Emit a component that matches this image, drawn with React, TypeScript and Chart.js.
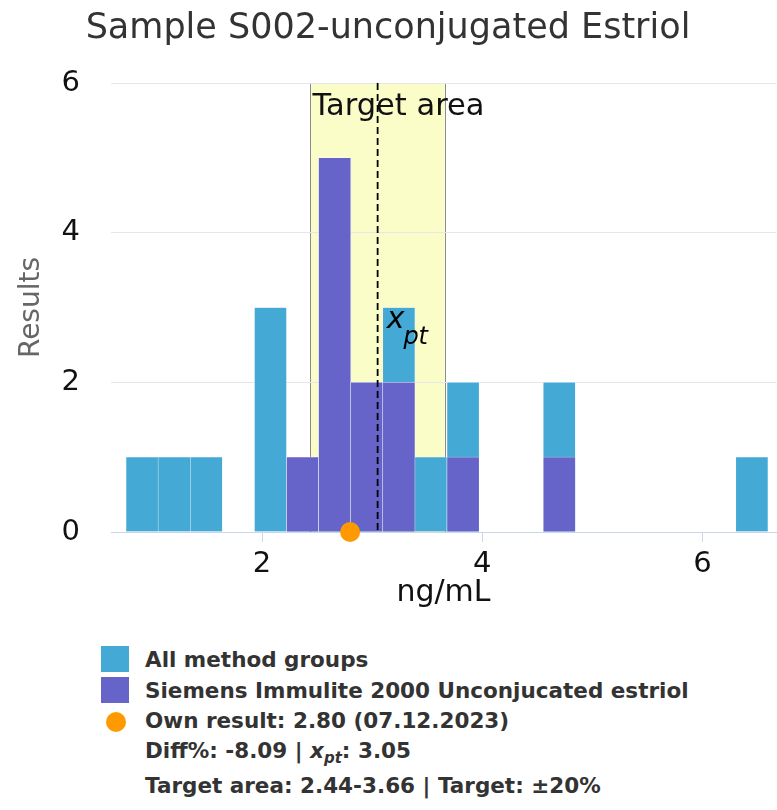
import React, { useEffect, useRef } from 'react';
import { Chart, registerables } from 'chart.js';

Chart.register(...registerables);

const FONT = '"DejaVu Sans", sans-serif';

// Histogram bins (centers, ng/mL)
const binCenters = [0.911, 1.202, 1.494, 1.785, 2.077, 2.368, 2.66, 2.951, 3.243, 3.534, 3.826, 4.117, 4.409, 4.7, 4.992, 5.283, 5.575, 5.866, 6.158, 6.449];
const allMethodCounts = [1, 1, 1, 0, 3, 1, 5, 2, 3, 1, 2, 0, 0, 2, 0, 0, 0, 0, 0, 1];
const siemensCounts = [0, 0, 0, 0, 0, 1, 5, 2, 2, 0, 1, 0, 0, 1, 0, 0, 0, 0, 0, 0];

const ownResult = 2.8;
const xpt = 3.05;
const targetLow = 2.44;
const targetHigh = 3.66;

const xTicks = [2, 4, 6];
const yTicks = [0, 2, 4, 6];
const xMin = 0.6285;
const xMax = 6.668;

const titleText = 'Sample S002-unconjugated Estriol';
const xTitle = 'ng/mL';
const yTitle = 'Results';
const allLabel = 'All method groups';
const siemensLabel = 'Siemens Immulite 2000 Unconjucated estriol';

const BLUE = '#44a9d5';
const PURPLE = '#6664c9';
const ORANGE = '#ff9900';

const annotationPlugin = {
  id: 'targetAnnotations',
  beforeDraw(chart: any) {
    const { ctx, chartArea, scales } = chart;
    const x = scales.x;
    const l = x.getPixelForValue(targetLow);
    const r = x.getPixelForValue(targetHigh);
    ctx.save();
    ctx.fillStyle = '#fbfdc9';
    ctx.fillRect(l, chartArea.top, r - l, chartArea.bottom - chartArea.top);
    ctx.strokeStyle = '#8c8c8c';
    ctx.lineWidth = 1;
    ctx.beginPath();
    ctx.moveTo(Math.round(l) + 0.5, chartArea.top);
    ctx.lineTo(Math.round(l) + 0.5, chartArea.bottom);
    ctx.moveTo(Math.round(r) + 0.5, chartArea.top);
    ctx.lineTo(Math.round(r) + 0.5, chartArea.bottom);
    ctx.stroke();
    ctx.fillStyle = '#111111';
    ctx.font = `30.5px ${FONT}`;
    ctx.textAlign = 'left';
    ctx.textBaseline = 'alphabetic';
    ctx.fillText('Target area', l + 2, chartArea.top + 32);
    ctx.restore();
  },
  afterDatasetsDraw(chart: any) {
    const { ctx, chartArea, scales } = chart;
    const px = scales.x.getPixelForValue(xpt);
    ctx.save();
    ctx.strokeStyle = '#000000';
    ctx.lineWidth = 1.8;
    ctx.setLineDash([7, 4]);
    ctx.beginPath();
    ctx.moveTo(px, chartArea.top);
    ctx.lineTo(px, chartArea.bottom);
    ctx.stroke();
    ctx.setLineDash([]);
    ctx.fillStyle = '#000000';
    ctx.textAlign = 'left';
    ctx.textBaseline = 'alphabetic';
    ctx.font = `italic 30px ${FONT}`;
    const lx = px + 9;
    const ly = chartArea.top + 245;
    ctx.fillText('x', lx, ly);
    const w = ctx.measureText('x').width;
    ctx.font = `italic 24px ${FONT}`;
    ctx.fillText('pt', lx + w - 1, ly + 16);
    ctx.restore();
  },
};

function ChartCanvas() {
  const ref = useRef<HTMLCanvasElement | null>(null);
  useEffect(() => {
    if (!ref.current) return;
    const chart = new Chart(ref.current, {
      type: 'bar',
      data: {
        datasets: [
          {
            type: 'bar',
            label: allLabel,
            data: binCenters.map((x, i) => ({ x, y: allMethodCounts[i] || null })),
            backgroundColor: BLUE,
            borderColor: 'rgba(255,255,255,0.9)',
            borderWidth: 0.5,
            grouped: false,
            barPercentage: 1,
            categoryPercentage: 1,
            order: 2,
          } as any,
          {
            type: 'bar',
            label: siemensLabel,
            data: binCenters.map((x, i) => ({ x, y: siemensCounts[i] || null })),
            backgroundColor: PURPLE,
            borderColor: 'rgba(255,255,255,0.9)',
            borderWidth: 0.5,
            grouped: false,
            barPercentage: 1,
            categoryPercentage: 1,
            order: 1,
          } as any,
          {
            type: 'scatter',
            label: 'Own result',
            data: [{ x: ownResult, y: 0 }],
            backgroundColor: ORANGE,
            borderWidth: 0,
            pointRadius: 10,
            pointHoverRadius: 10,
            clip: false,
            order: 0,
          } as any,
        ],
      },
      options: {
        animation: false,
        responsive: false,
        devicePixelRatio: 1,
        layout: { autoPadding: false, padding: { top: 0, left: 0, right: 1, bottom: 0 } },
        plugins: {
          legend: { display: false },
          tooltip: { enabled: false },
          title: {
            display: true,
            text: titleText,
            color: '#333333',
            font: { family: FONT, size: 35, weight: 'normal' },
            padding: { top: 8, bottom: 33 },
          },
        },
        scales: {
          x: {
            type: 'linear',
            min: xMin,
            max: xMax,
            offset: false,
            afterBuildTicks: (s: any) => {
              s.ticks = xTicks.map((v) => ({ value: v }));
            },
            afterFit: (s: any) => {
              s.height = 88;
            },
            grid: {
              offset: false,
              drawOnChartArea: false,
              drawTicks: true,
              tickLength: 10,
              color: '#ccd6eb',
            },
            border: { display: true, color: '#ccd6eb', width: 1 },
            ticks: {
              color: '#111111',
              font: { family: FONT, size: 29 },
              padding: 5,
              maxRotation: 0,
            },
            title: {
              display: true,
              text: xTitle,
              color: '#111111',
              font: { family: FONT, size: 30 },
              padding: { top: 0, bottom: 9 },
            },
          },
          y: {
            type: 'linear',
            min: 0,
            max: 6,
            afterBuildTicks: (s: any) => {
              s.ticks = yTicks.map((v) => ({ value: v }));
            },
            afterFit: (s: any) => {
              s.width = 111;
            },
            grid: {
              drawTicks: false,
              color: (c: any) => (c.tick && c.tick.value === 0 ? 'rgba(0,0,0,0)' : '#e6e6e6'),
            },
            border: { display: false },
            ticks: {
              color: '#111111',
              font: { family: FONT, size: 29 },
              padding: 31,
              labelOffset: 0,
            },
            title: {
              display: true,
              text: yTitle,
              color: '#666666',
              font: { family: FONT, size: 28 },
              padding: { top: 15, bottom: 0 },
            },
          },
        },
      } as any,
      plugins: [annotationPlugin],
    });
    return () => chart.destroy();
  }, []);
  return <canvas ref={ref} width={777} height={620} style={{ display: 'block', width: 777, height: 620 }} />;
}

const rowStyle = (top: number): React.CSSProperties => ({
  position: 'absolute',
  left: 145,
  top,
  fontFamily: FONT,
  fontWeight: 'bold',
  fontSize: 21.5,
  lineHeight: '26px',
  color: '#333333',
  whiteSpace: 'nowrap',
});

export default function App() {
  return (
    <div style={{ position: 'absolute', left: 0, top: 0, width: 777, height: 810, background: '#ffffff', overflow: 'hidden' }}>
      <ChartCanvas />
      <div style={{ position: 'absolute', left: 101, top: 646, width: 28, height: 26, background: BLUE }} />
      <div style={{ position: 'absolute', left: 101, top: 677, width: 28, height: 26, background: PURPLE }} />
      <div style={{ position: 'absolute', left: 106, top: 712, width: 20, height: 20, borderRadius: '50%', background: ORANGE }} />
      <div style={rowStyle(647)}>{allLabel}</div>
      <div style={rowStyle(678)}>{siemensLabel}</div>
      <div style={rowStyle(708)}>Own result: {ownResult.toFixed(2)} (07.12.2023)</div>
      <div style={rowStyle(738)}>
        Diff%: -8.09 | <i>x<sub style={{ fontSize: 15, verticalAlign: '-5px' }}>pt</sub></i>: {xpt.toFixed(2)}
      </div>
      <div style={rowStyle(773)}>
        Target area: {targetLow.toFixed(2)}-{targetHigh.toFixed(2)} | Target: ±20%
      </div>
    </div>
  );
}
